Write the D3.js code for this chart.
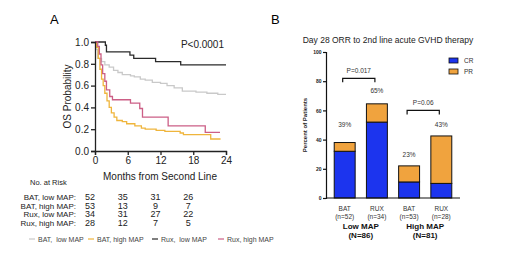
<!DOCTYPE html>
<html>
<head>
<meta charset="utf-8">
<script src="https://cdn.jsdelivr.net/npm/d3@7"></script>
<style>
  body { margin: 0; background: #fff; }
  svg { font-family: "Liberation Sans", Arial, sans-serif; }
</style>
</head>
<body>
<div id="chart"></div>
<script>
//////////////////////////
// data
//////////////////////////
// KM steps: [month, survival]
var batLow = [[0,1],[0.2,0.93],[0.5,0.85],[1.2,0.82],[1.8,0.79],[2.6,0.77],[3.4,0.74],[4.2,0.72],[5,0.7],[6.5,0.69],[7.2,0.68],[8.3,0.66],[9.2,0.65],[10.5,0.63],[12,0.62],[13.2,0.6],[14.5,0.58],[16,0.55],[18.5,0.54],[20.5,0.53],[22.5,0.52],[24,0.52]];
var batHigh = [[0,1],[0.3,0.95],[0.6,0.85],[0.9,0.75],[1.2,0.66],[1.5,0.6],[1.8,0.53],[2.2,0.46],[2.6,0.4],[3,0.35],[3.5,0.31],[4,0.28],[5,0.27],[5.8,0.25],[7.3,0.23],[8.5,0.21],[9.2,0.2],[11.2,0.19],[12.8,0.18],[15.6,0.165],[16.2,0.15],[21.2,0.11],[23,0.11]];
var ruxLow = [[0,1],[1.9,0.97],[2.1,0.91],[6.4,0.88],[7.1,0.85],[11.1,0.82],[15.7,0.79],[24,0.79]];
var ruxHigh = [[0,1],[0.5,0.96],[0.8,0.89],[1.1,0.79],[1.4,0.71],[1.8,0.64],[2.1,0.56],[2.7,0.5],[3.2,0.47],[6.5,0.44],[8.2,0.39],[8.7,0.31],[13.4,0.23],[20.2,0.17],[22.9,0.17]];

var kmSeries = ["BAT,  low MAP", "BAT, high MAP", "Rux,  low MAP", "Rux, high MAP"];
var kmColors = ["#c9c9c9", "#efb53c", "#2b2b2b", "#cc5f86"];
var kmData = [batLow, batHigh, ruxLow, ruxHigh];

var riskLabels = ["BAT, low MAP:", "BAT, high MAP:", "Rux, low MAP:", "Rux, high MAP:"];
var riskMonths = [0, 6, 12, 18];
var riskCounts = [[52,35,31,26],[53,13,9,7],[34,31,27,22],[28,12,7,5]];

// ORR bars
var barTreat = ["BAT", "RUX", "BAT", "RUX"];
var barN = ["(n=52)", "(n=34)", "(n=53)", "(n=28)"];
var barCR = [32, 52, 11, 10];
var barPR = [6, 12.5, 11, 32.5];
var barPct = ["39%", "65%", "23%", "43%"];
var groups = ["Low MAP", "High MAP"];
var groupN = ["(N=86)", "(N=81)"];
var pValues = ["P=0.017", "P=0.06"];

//////////////////////////
// setup svg
//////////////////////////
var svg = d3.select("#chart").append("svg")
  .attr("width", 520)
  .attr("height", 264);

//////////////////////////
// panel A: KM plot
//////////////////////////
var x = d3.scaleLinear().domain([0, 24]).range([95, 226]);
var y = d3.scaleLinear().domain([0, 1]).range([151, 42]);

svg.append("text").attr("x", 50).attr("y", 24)
  .style("font-size", "13px").text("A");

var line = d3.line()
  .x(function(d) { return x(d[0]); })
  .y(function(d) { return y(d[1]); })
  .curve(d3.curveStepAfter);

svg.selectAll("path.km")
  .data(kmData)
  .enter().append("path")
  .attr("class", "km")
  .attr("d", line)
  .attr("fill", "none")
  .attr("stroke", function(d, i) { return kmColors[i]; })
  .attr("stroke-width", 1.3);

// axes
var ax = svg.append("g")
  .attr("transform", "translate(0," + y(0) + ")")
  .call(d3.axisBottom(x).tickValues([0, 6, 12, 18, 24]).tickSize(4).tickPadding(2));
var ay = svg.append("g")
  .attr("transform", "translate(" + x(0) + ",0)")
  .call(d3.axisLeft(y).tickValues([0, 0.2, 0.4, 0.6, 0.8, 1]).tickFormat(d3.format(".1f")).tickSize(4).tickPadding(2));
[ax, ay].forEach(function(g) {
  g.selectAll("path, line").attr("stroke", "#222").attr("stroke-width", 1.3);
  g.selectAll("text").style("font-size", "10px").attr("fill", "#222").style("font-family", "Liberation Sans, Arial, sans-serif");
});

svg.append("text")
  .attr("x", 160).attr("y", 180)
  .attr("text-anchor", "middle")
  .style("font-size", "10px").attr("fill", "#222")
  .text("Months from Second Line");

svg.append("text")
  .attr("transform", "translate(71," + y(0.5) + ") rotate(-90)")
  .attr("text-anchor", "middle")
  .style("font-size", "10px").attr("fill", "#222")
  .text("OS Probability");

svg.append("text")
  .attr("x", 224).attr("y", 48)
  .attr("text-anchor", "end")
  .style("font-size", "10px").attr("fill", "#222")
  .text("P<0.0001");

// number at risk
svg.append("text")
  .attr("x", 30).attr("y", 185)
  .style("font-size", "7.5px").attr("fill", "#222")
  .text("No. at Risk");

var riskRows = svg.selectAll("g.risk")
  .data(riskCounts)
  .enter().append("g")
  .attr("class", "risk")
  .attr("transform", function(d, i) { return "translate(0," + (200 + i * 8.7) + ")"; });

riskRows.append("text")
  .attr("x", 76)
  .attr("text-anchor", "end")
  .style("font-size", "8px").attr("fill", "#222")
  .text(function(d, i) { return riskLabels[i]; });

riskRows.selectAll("text.cnt")
  .data(function(d) { return d; })
  .enter().append("text")
  .attr("class", "cnt")
  .attr("x", function(d, j) { return x(riskMonths[j]) - 5; })
  .attr("text-anchor", "middle")
  .style("font-size", "9px").attr("fill", "#222")
  .text(function(d) { return d; });

// legend
var legX = [29, 88, 152, 218];
var leg = svg.selectAll("g.kmleg")
  .data(kmSeries)
  .enter().append("g")
  .attr("class", "kmleg")
  .attr("transform", function(d, i) { return "translate(" + legX[i] + ",239)"; });
leg.append("line")
  .attr("x1", 0).attr("x2", 6)
  .attr("stroke", function(d, i) { return kmColors[i]; })
  .attr("stroke-width", 1.2);
leg.append("text")
  .attr("x", 9).attr("y", 2.5)
  .style("font-size", "7px").attr("fill", "#444")
  .style("white-space", "pre")
  .attr("xml:space", "preserve")
  .text(function(d) { return d; });

//////////////////////////
// panel B: stacked bars
//////////////////////////
var bx = d3.scaleBand().domain(d3.range(4)).range([331, 455]).paddingInner(0.35).paddingOuter(0.1);
var by = d3.scaleLinear().domain([0, 100]).range([198, 52]);

svg.append("text").attr("x", 271).attr("y", 24)
  .style("font-size", "13px").text("B");

svg.append("text")
  .attr("x", 388).attr("y", 43)
  .attr("text-anchor", "middle")
  .style("font-size", "8.5px").attr("fill", "#222")
  .text("Day 28 ORR to 2nd line acute GVHD therapy");

var bars = svg.selectAll("g.bar")
  .data(barCR)
  .enter().append("g")
  .attr("class", "bar");

bars.append("rect")
  .attr("x", function(d, i) { return bx(i); })
  .attr("width", bx.bandwidth())
  .attr("y", function(d) { return by(d); })
  .attr("height", function(d) { return by(0) - by(d); })
  .attr("fill", "#1c34ee").attr("stroke", "#111").attr("stroke-width", 1);

bars.append("rect")
  .attr("x", function(d, i) { return bx(i); })
  .attr("width", bx.bandwidth())
  .attr("y", function(d, i) { return by(d + barPR[i]); })
  .attr("height", function(d, i) { return by(0) - by(barPR[i]); })
  .attr("fill", "#f0a33e").attr("stroke", "#111").attr("stroke-width", 1);

var pctY = [50, 73, 29.5, 50];
bars.append("text")
  .attr("x", function(d, i) { return bx(i) + bx.bandwidth() / 2; })
  .attr("y", function(d, i) { return by(pctY[i]) + 2; })
  .attr("text-anchor", "middle")
  .style("font-size", "6.5px").attr("fill", "#333")
  .text(function(d, i) { return barPct[i]; });

// axes
svg.append("line")
  .attr("x1", 326).attr("x2", 460)
  .attr("y1", by(0)).attr("y2", by(0))
  .attr("stroke", "#111").attr("stroke-width", 1.2);

var bya = svg.append("g")
  .attr("transform", "translate(326,0)")
  .call(d3.axisLeft(by).tickValues([0, 20, 40, 60, 80, 100]).tickSize(3).tickPadding(1.5));
bya.selectAll("path, line").attr("stroke", "#111").attr("stroke-width", 1.2);
bya.selectAll("text").style("font-size", "5px").style("font-weight", "bold").attr("fill", "#222")
  .style("font-family", "Liberation Sans, Arial, sans-serif");

svg.append("text")
  .attr("transform", "translate(307," + by(50) + ") rotate(-90)")
  .attr("text-anchor", "middle")
  .style("font-size", "6px").style("font-weight", "bold").attr("fill", "#222")
  .text("Percent of Patients");

// category labels
bars.append("text")
  .attr("x", function(d, i) { return bx(i) + bx.bandwidth() / 2; })
  .attr("y", 211)
  .attr("text-anchor", "middle")
  .style("font-size", "6.5px").attr("fill", "#333")
  .text(function(d, i) { return barTreat[i]; });
bars.append("text")
  .attr("x", function(d, i) { return bx(i) + bx.bandwidth() / 2; })
  .attr("y", 219)
  .attr("text-anchor", "middle")
  .style("font-size", "6.5px").attr("fill", "#333")
  .text(function(d, i) { return barN[i]; });

var grp = svg.selectAll("g.grp")
  .data(groups)
  .enter().append("g")
  .attr("class", "grp");
grp.append("text")
  .attr("x", function(d, i) { return (bx(2 * i) + bx(2 * i + 1) + bx.bandwidth()) / 2; })
  .attr("y", 229)
  .attr("text-anchor", "middle")
  .style("font-size", "8px").style("font-weight", "bold").attr("fill", "#111")
  .text(function(d) { return d; });
grp.append("text")
  .attr("x", function(d, i) { return (bx(2 * i) + bx(2 * i + 1) + bx.bandwidth()) / 2; })
  .attr("y", 238)
  .attr("text-anchor", "middle")
  .style("font-size", "8px").style("font-weight", "bold").attr("fill", "#111")
  .text(function(d, i) { return groupN[i]; });

// p-value brackets
var brY = [82, 60];
function brX0(i) { return bx(2 * i) + bx.bandwidth() / 2 - 2; }
function brX1(i) { return bx(2 * i + 1) + bx.bandwidth() / 2 - 2; }
var br = svg.selectAll("g.br")
  .data(pValues)
  .enter().append("g")
  .attr("class", "br");
br.append("path")
  .attr("d", function(d, i) {
    var yy = by(brY[i]);
    return "M" + brX0(i) + "," + (yy + 4) + "V" + yy + "H" + brX1(i) + "V" + (yy + 4);
  })
  .attr("fill", "none").attr("stroke", "#111").attr("stroke-width", 1.2);
br.append("text")
  .attr("x", function(d, i) { return (brX0(i) + brX1(i)) / 2; })
  .attr("y", function(d, i) { return by(brY[i]) - 5; })
  .attr("text-anchor", "middle")
  .style("font-size", "6.5px").attr("fill", "#333")
  .text(function(d) { return d; });

// legend
var bleg = svg.selectAll("g.bleg")
  .data(["CR", "PR"])
  .enter().append("g")
  .attr("class", "bleg")
  .attr("transform", function(d, i) { return "translate(449," + (58 + i * 11) + ")"; });
bleg.append("rect")
  .attr("width", 9).attr("height", 5)
  .attr("fill", function(d, i) { return i ? "#f0a33e" : "#1c34ee"; })
  .attr("stroke", "#111").attr("stroke-width", 0.8);
bleg.append("text")
  .attr("x", 15).attr("y", 4.5)
  .style("font-size", "6.5px").attr("fill", "#333")
  .text(function(d) { return d; });
</script>
</body>
</html>
